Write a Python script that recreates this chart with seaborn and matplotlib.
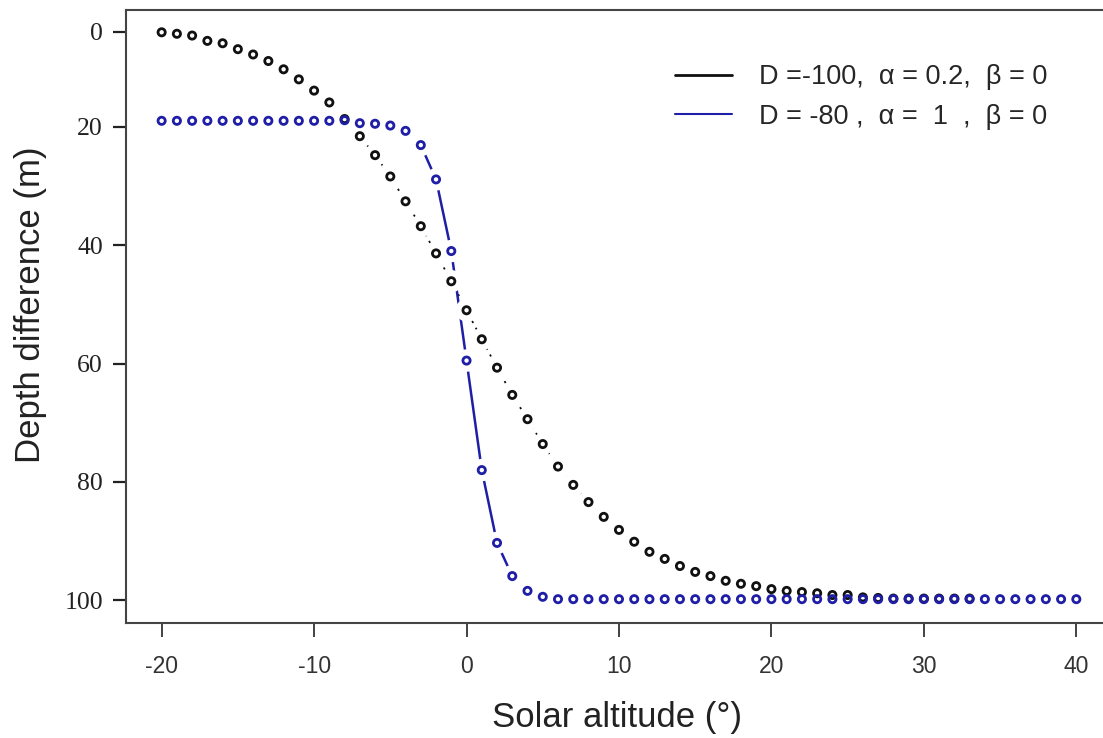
import pandas as pd
import matplotlib
matplotlib.use("Agg")
import matplotlib.pyplot as plt
from matplotlib.lines import Line2D
import seaborn as sns

# solar altitude (deg) and depth difference (m)
black_x = list(range(-20, 34))
black_y = [4.05, 4.3, 4.6, 5.5, 5.9, 6.9, 7.8, 8.9, 10.3, 12.0,
           13.9, 15.9, 18.7, 21.6, 24.8, 28.4, 32.6, 36.8, 41.4, 46.1,
           51.0, 55.9, 60.7, 65.3, 69.4, 73.6, 77.4, 80.5, 83.4, 85.9,
           88.1, 90.1, 91.8, 93.0, 94.2, 95.2, 95.9, 96.7, 97.2, 97.6,
           98.1, 98.4, 98.6, 98.8, 99.1, 99.1, 99.5, 99.6, 99.7, 99.7,
           99.7, 99.7, 99.7, 99.7]

blue_x = list(range(-20, 41))
blue_y = [19.0, 19.0, 19.0, 19.0, 19.0, 19.0, 19.0, 19.0, 19.0, 19.0,
          19.0, 19.0, 18.9, 19.4, 19.5, 19.8, 20.7, 23.1, 28.9, 41.0,
          59.5, 78.0, 90.3, 95.9, 98.4, 99.4, 99.8, 99.8, 99.8, 99.8,
          99.8, 99.8, 99.8, 99.8, 99.8, 99.8, 99.8, 99.8, 99.8, 99.8,
          99.8, 99.8, 99.8, 99.8, 99.8, 99.8, 99.8, 99.8, 99.8, 99.8,
          99.8, 99.8, 99.8, 99.8, 99.8, 99.8, 99.8, 99.8, 99.8, 99.8,
          99.8]

labels = ["D =-100,  \u03b1 = 0.2,  \u03b2 = 0",
          "D = -80 ,  \u03b1 =  1  ,  \u03b2 = 0"]

xticks = [-20, -10, 0, 10, 20, 30, 40]
ytick_pos = [3.95, 20, 40, 60, 80, 100]
ytick_labels = ["0", "20", "40", "60", "80", "100"]

black = "#111111"
blue = "#1e1ea6"

df_black = pd.DataFrame({"x": black_x, "y": black_y})
df_blue = pd.DataFrame({"x": blue_x, "y": blue_y})

sns.set_theme(style="white")
plt.rcParams["font.family"] = ["Liberation Sans", "DejaVu Sans"]

fig = plt.figure(figsize=(11.03, 7.38), dpi=100)
ax = fig.add_axes([0.1142, 0.1558, 0.8858, 0.8306])

# lines first, then white discs to open gaps round the points, then the points
sns.lineplot(data=df_black, x="x", y="y", color=black, lw=1.3,
             linestyle=(0, (1.2, 3)), sort=False, ax=ax, zorder=1)
sns.lineplot(data=df_blue, x="x", y="y", color=blue, lw=1.8,
             sort=False, ax=ax, zorder=1)
for d in (df_black, df_blue):
    sns.scatterplot(data=d, x="x", y="y", s=260, color="white",
                    edgecolor="none", linewidth=0, ax=ax, zorder=2)
sns.scatterplot(data=df_black, x="x", y="y", s=27, marker="o",
                facecolors="none", edgecolor=black, linewidth=2.0,
                ax=ax, zorder=3)
sns.scatterplot(data=df_blue, x="x", y="y", s=27, marker="o",
                facecolors="none", edgecolor=blue, linewidth=2.0,
                ax=ax, zorder=4)

ax.set_xlim(-22.34, 41.75)
ax.set_ylim(103.83, 0.29)

ax.set_xticks(xticks)
ax.set_xticklabels([str(v) for v in xticks], fontsize=16.5, color="#333333")
ax.set_yticks(ytick_pos)
ax.set_yticklabels(ytick_labels, fontsize=18.5, color="#222222",
                   family="Liberation Serif")
ax.tick_params(axis="x", direction="out", length=10, width=1.3,
               color="#333333", pad=13, bottom=True)
ax.tick_params(axis="y", direction="out", length=9.5, width=1.6,
               color="#222222", pad=7, left=True)

for side in ("left", "bottom", "top"):
    ax.spines[side].set_color("#444444")
    ax.spines[side].set_linewidth(1.5)
ax.spines["right"].set_visible(False)

ax.set_xlabel("Solar altitude (\u00b0)", fontsize=25, color="#222222")
ax.set_ylabel("Depth difference (m)", fontsize=25, color="#222222")
ax.xaxis.set_label_coords(0.5026, -0.128)
ax.yaxis.set_label_coords(-0.081, 0.52)

handles = [Line2D([], [], color=black, lw=2.0),
           Line2D([], [], color=blue, lw=1.5)]
ax.legend(handles, labels, loc="upper left",
          bbox_to_anchor=(675 / 1103, 0.913), bbox_transform=fig.transFigure,
          frameon=False, fontsize=19.5, handlelength=2.1, handletextpad=1.0,
          labelspacing=0.5, borderpad=0, borderaxespad=0)

fig.savefig("out.png", dpi=100)
